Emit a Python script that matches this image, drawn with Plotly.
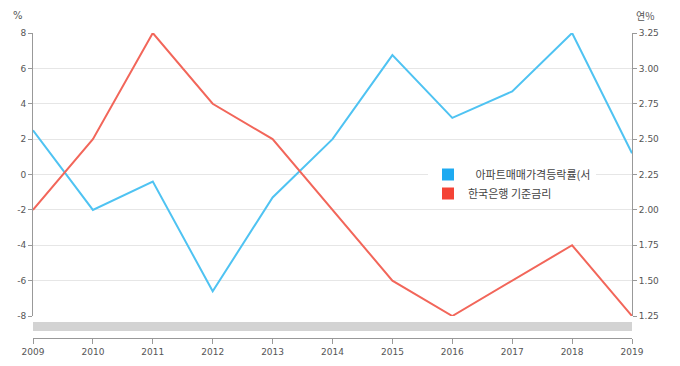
import plotly.graph_objects as go

years = [2009, 2010, 2011, 2012, 2013, 2014, 2015, 2016, 2017, 2018, 2019]
apt_change = [2.5, -2.0, -0.4, -6.6, -1.3, 2.0, 6.75, 3.2, 4.7, 8.0, 1.2]
base_rate = [2.00, 2.50, 3.25, 2.75, 2.50, 2.00, 1.50, 1.25, 1.50, 1.75, 1.25]
name_apt = "아파트매매가격등락률(서"
name_rate = "한국은행 기준금리"
left_ticks = [-8, -6, -4, -2, 0, 2, 4, 6, 8]
right_ticks = [1.25, 1.50, 1.75, 2.00, 2.25, 2.50, 2.75, 3.00, 3.25]

blue = "#4FC3F2"
red = "#F2665A"
font = dict(family="DejaVu Sans", size=9, color="#555555")

# page body adds an 8px offset
OFF = 8
W, H = 672, 358
L, T = 33 - OFF, 33 - OFF
R = W - (632 - OFF)
B = H - (338 - OFF)
ph = H - T - B
pw = W - L - R

fig = go.Figure()
fig.add_trace(go.Scatter(x=years, y=apt_change, mode="lines", line=dict(color=blue, width=2),
                         showlegend=False, yaxis="y"))
fig.add_trace(go.Scatter(x=years, y=base_rate, mode="lines", line=dict(color=red, width=2),
                         showlegend=False, yaxis="y2"))
fig.add_trace(go.Scatter(x=[None], y=[None], mode="markers", name="   " + name_apt,
                         marker=dict(symbol="square", size=8, color="#1EAAF1")))
fig.add_trace(go.Scatter(x=[None], y=[None], mode="markers", name=name_rate,
                         marker=dict(symbol="square", size=8, color="#F44336")))

ydom0 = (338 - 316) / ph
fig.update_layout(
    width=W, height=H,
    margin=dict(l=L, r=R, t=T, b=B),
    paper_bgcolor="white", plot_bgcolor="white",
    font=font,
    xaxis=dict(range=[2009, 2019], tickvals=years, ticktext=[str(y) for y in years],
               showgrid=False, zeroline=False, showline=True, linecolor="#999999", linewidth=1,
               ticks="outside", ticklen=5, tickcolor="#999999", anchor="free", position=0,
               tickfont=font, automargin=False),
    yaxis=dict(domain=[ydom0, 1], range=[-8, 8], tickvals=left_ticks,
               ticktext=[str(v) for v in left_ticks],
               showgrid=True, gridcolor="#E6E6E6", zeroline=False,
               showline=True, linecolor="#999999", ticks="outside", ticklen=4,
               tickcolor="#999999", tickfont=font, automargin=False),
    yaxis2=dict(overlaying="y", side="right", range=[1.25, 3.25], tickvals=right_ticks,
                ticktext=[f"{v:.2f}" for v in right_ticks],
                showgrid=False, zeroline=False, showline=True, linecolor="#999999",
                ticks="outside", ticklen=4, tickcolor="#999999", tickfont=font,
                automargin=False),
    legend=dict(x=(428 - 33) / pw, y=(338 - 160) / ph, xanchor="left", yanchor="top",
                bgcolor="white",
                font=dict(family="Noto Sans CJK KR", size=11, color="#444444"),
                itemsizing="constant", tracegroupgap=0),
    shapes=[dict(type="rect", xref="x", yref="paper", x0=2009, x1=2019,
                 y0=(338 - 331) / ph, y1=(338 - 322) / ph,
                 fillcolor="#D3D3D3", line=dict(width=0), layer="below")],
    annotations=[
        dict(text="%", xref="paper", yref="paper", x=(18 - 33) / pw, y=1.0, yshift=18,
             showarrow=False, xanchor="center", yanchor="middle",
             font=dict(family="DejaVu Sans", size=10, color="#555555")),
        dict(text="연%", xref="paper", yref="paper", x=(645 - 33) / pw, y=1.0, yshift=18,
             showarrow=False, xanchor="center", yanchor="middle",
             font=dict(family="Noto Sans CJK KR", size=10, color="#555555")),
    ],
)

fig.write_html("out.html")
